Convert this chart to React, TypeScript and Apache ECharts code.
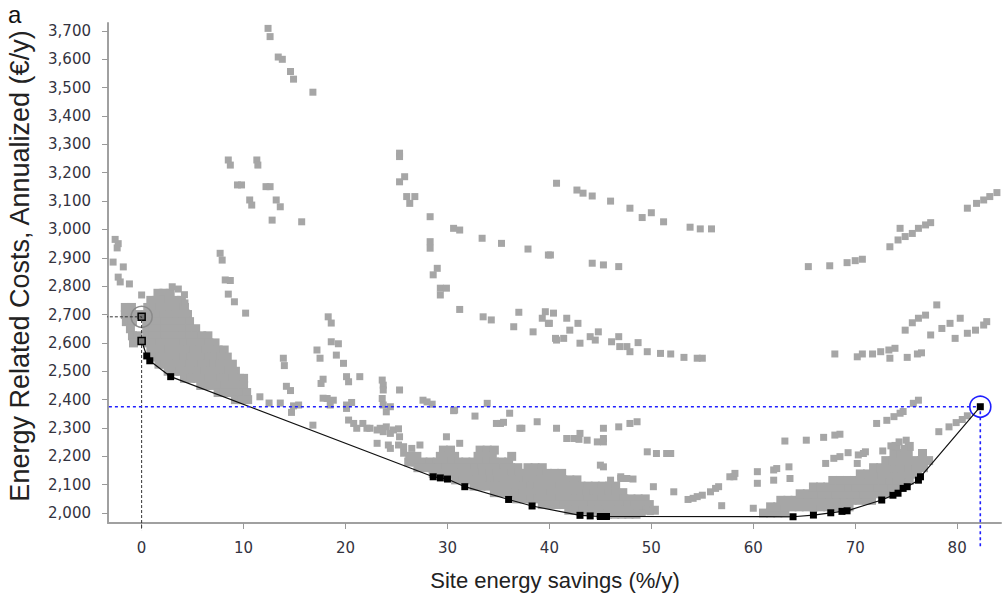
import React, { useEffect, useRef } from "react";
import * as echarts from "echarts";

// ---- tick labels ----
const xTicks = [0, 10, 20, 30, 40, 50, 60, 70, 80];
const yTicks = [2000, 2100, 2200, 2300, 2400, 2500, 2600, 2700, 2800, 2900, 3000, 3100, 3200, 3300, 3400, 3500, 3600, 3700];

// ---- sparse evaluated designs (gray) [savings %, cost €/y] ----
const sparseLeft: number[][] = [
  [-2.6, 2965], [-2.3, 2950], [-2.4, 2935], [-2.8, 2885], [-1.8, 2868], [-2.3, 2832], [-2.1, 2815], [-1.2, 2808],
  [0, 2769], [2.0, 2778], [3.0, 2798], [3.6, 2790], [4.2, 2770], [4.25, 2741], [4.4, 2705],
  [8.2, 2822], [8.7, 2820], [8.5, 2772], [9.1, 2745], [10.2, 2705], [7.7, 2916], [7.9, 2892],
];
const sparseUpperLeft: number[][] = [
  [8.5, 3245], [8.7, 3227], [11.3, 3245], [11.4, 3227], [9.4, 3157], [9.8, 3157], [12.2, 3151], [12.6, 3151],
  [10.6, 3104], [10.8, 3086], [13.2, 3104], [13.6, 3080], [12.8, 3033], [15.7, 3027],
  [12.4, 3709], [12.6, 3680], [13.4, 3608], [13.8, 3600], [14.6, 3557], [14.9, 3530], [16.8, 3484],
];
const sparseMid: number[][] = [
  [18.3, 2692], [18.6, 2670], [18.6, 2604], [19.3, 2597], [17.2, 2575], [17.5, 2546], [19.1, 2557], [19.8, 2528],
  [13.9, 2546], [14.0, 2520], [20.1, 2481], [21.4, 2481], [17.8, 2472], [17.6, 2457],
  [11.6, 2410], [12.5, 2388], [13.6, 2388], [14.2, 2447], [14.6, 2432], [14.9, 2378], [14.7, 2355], [15.4, 2381],
  [16.8, 2310], [17.8, 2405], [18.2, 2404], [18.8, 2398], [18.5, 2381], [20.1, 2381], [20.6, 2390], [20.1, 2369],
  [20.3, 2328], [20.8, 2316], [21.1, 2299], [21.7, 2316], [22.1, 2299], [22.4, 2299], [23.1, 2293], [23.4, 2299],
  [24.0, 2304], [24.7, 2293], [25.2, 2297], [25.3, 2269], [24.4, 2281], [23.7, 2287], [20.3, 2463], [23.6, 2469],
  [23.7, 2451], [23.7, 2434], [25.3, 2434], [23.6, 2404], [23.7, 2381], [24.0, 2357], [24.4, 2375], [27.6, 2398],
  [28.5, 2384], [30.6, 2361], [32.7, 2342], [33.9, 2387], [36.1, 2352], [35.2, 2316], [37.1, 2299], [38.8, 2322],
  [40.7, 2299], [42.4, 2263], [42.9, 2260], [23.1, 2246], [24.2, 2240], [24.4, 2228], [25.2, 2240], [25.7, 2234],
  [25.7, 2211], [26.5, 2228], [27.3, 2240], [29.9, 2269], [31.2, 2246], [28.0, 2392], [30.7, 2363], [34.8, 2316],
  [35.5, 2320], [37.3, 2299], [41.7, 2263], [43.0, 2281], [43.7, 2257], [44.7, 2251], [45.3, 2263], [45.3, 2299],
  [46.8, 2304], [47.9, 2316], [48.6, 2322], [45.3, 2251], [45.3, 2163], [45.0, 2169],
];
const sparseLowRight: number[][] = [
  [49.6, 2216], [50.5, 2210], [51.5, 2210], [51.9, 2210], [50.2, 2093], [52.2, 2075], [53.6, 2048], [54.1, 2052],
  [54.5, 2058], [55.0, 2063], [55.8, 2075], [56.3, 2087], [56.6, 2093], [46.0, 2116], [47.0, 2122], [47.6, 2122],
  [48.2, 2120], [47.0, 2128], [49.1, 1999], [49.9, 2005], [56.9, 2026], [57.7, 2128], [58.1, 2128], [58.2, 2140],
  [60.0, 2017], [60.4, 2146], [60.4, 2105], [62.0, 2152], [62.0, 2116], [63.5, 2163], [63.6, 2122], [62.3, 2157],
  [63.1, 2254], [65.2, 2257], [66.9, 2267], [68.0, 2275], [68.5, 2278],
  [67.1, 2175], [67.9, 2193], [68.5, 2199], [69.3, 2213], [70.3, 2205], [71.0, 2216], [70.2, 2175], [70.8, 2210],
  [72.1, 2316], [73.1, 2327], [73.8, 2340], [74.4, 2352], [74.7, 2358], [75.7, 2387], [76.2, 2398],
  [72.7, 2219], [73.5, 2237], [74.3, 2251], [75.0, 2257], [74.8, 2228],
  [78.2, 2287], [79.2, 2304], [79.9, 2319], [80.5, 2330], [81.0, 2343],
];
const sparseUpper: number[][] = [
  [25.3, 3269], [25.3, 3257], [25.8, 3186], [25.3, 3168], [26.0, 3116], [26.8, 3116], [26.3, 3092], [28.3, 3045],
  [30.6, 3004], [31.2, 2998], [33.4, 2969], [35.3, 2951], [37.9, 2931], [39.9, 2910],
  [28.3, 2957], [28.3, 2934], [29.0, 2863], [28.6, 2840], [29.3, 2793], [29.9, 2793], [29.3, 2769], [31.2, 2718],
  [33.5, 2692], [34.3, 2681], [37.0, 2708], [36.5, 2657], [38.4, 2639], [39.6, 2710], [39.3, 2687], [39.9, 2669],
  [40.6, 2616],
  [40.7, 3163], [42.7, 3139], [43.3, 3128], [44.2, 3118], [46.0, 3100], [47.9, 3075], [49.1, 3042], [50.0, 3059],
  [51.2, 3027], [53.8, 3008], [54.8, 3002], [55.9, 3002],
  [40.1, 2910], [44.2, 2881], [45.3, 2875], [46.8, 2869],
  [40.4, 2705], [40.0, 2669], [41.7, 2687], [42.8, 2669], [42.0, 2645], [40.7, 2610], [41.4, 2616], [43.0, 2599],
  [44.0, 2622], [44.8, 2639], [44.5, 2610], [46.1, 2604], [46.8, 2622], [46.9, 2587], [47.6, 2587], [47.9, 2569],
  [48.7, 2601], [49.6, 2569], [50.9, 2563], [51.9, 2561], [53.2, 2549], [54.5, 2546], [55.0, 2546],
];
const sparseRight: number[][] = [
  [81.0, 3075], [81.9, 3092], [82.6, 3104], [83.2, 3116], [83.9, 3130],
  [74.4, 3004], [73.4, 2939], [74.2, 2963], [74.9, 2975], [75.6, 2986], [76.2, 3004], [76.9, 3016], [77.4, 3024],
  [65.4, 2869], [67.5, 2872], [69.2, 2883], [70.0, 2890], [70.7, 2895],
  [68.0, 2561], [70.2, 2551], [70.7, 2561], [71.7, 2561], [72.5, 2569], [73.3, 2575], [73.9, 2581], [73.4, 2546],
  [75.1, 2549], [76.1, 2561], [76.5, 2565],
  [74.9, 2645], [75.6, 2671], [76.2, 2687], [76.9, 2698], [78.0, 2734],
  [77.4, 2628], [78.5, 2651], [79.3, 2669], [80.3, 2687],
  [79.8, 2616], [81.0, 2634], [81.8, 2645], [82.6, 2663], [82.9, 2675],
];

// ---- dense clouds: rows of [cost, savings values] ----
const cloudA: [number, number[]][] = [
  [2775, [1.6, 2.2, 2.8]],
  [2750, [0.9, 1.5, 2.1, 2.7, 3.3, 3.9]],
  [2725, [-1.6, -1.0, 0.6, 1.2, 1.8, 2.4, 3.0, 3.6, 4.2]],
  [2700, [-1.6, -1.0, -0.4, 0.4, 1.0, 1.6, 2.2, 2.8, 3.4, 4.0, 4.5]],
  [2675, [-1.5, -0.9, 0.5, 1.1, 1.7, 2.3, 2.9, 3.5, 4.1, 4.7]],
  [2650, [-1.1, 0.5, 1.1, 1.7, 2.3, 2.9, 3.5, 4.1, 4.7, 5.3]],
  [2625, [-0.9, -0.4, 0.5, 1.1, 1.7, 2.3, 2.9, 3.5, 4.1, 4.7, 5.3, 5.9, 6.5]],
  [2600, [-0.8, 0.6, 1.2, 1.8, 2.4, 3.0, 3.6, 4.2, 4.8, 5.4, 6.0, 6.6, 7.2]],
  [2575, [0.9, 1.5, 2.1, 2.7, 3.3, 3.9, 4.5, 5.1, 5.7, 6.3, 6.9, 7.5, 8.1]],
  [2550, [1.2, 1.8, 2.4, 3.0, 3.6, 4.2, 4.8, 5.4, 6.0, 6.6, 7.2, 7.8, 8.4]],
  [2525, [1.7, 2.3, 2.9, 3.5, 4.1, 4.7, 5.3, 5.9, 6.5, 7.1, 7.7, 8.3, 8.9]],
  [2500, [2.6, 3.2, 3.8, 4.4, 5.0, 5.6, 6.2, 6.8, 7.4, 8.0, 8.6, 9.2]],
  [2475, [4.2, 4.8, 5.4, 6.0, 6.6, 7.2, 7.8, 8.4, 9.0, 9.6, 10.0]],
  [2450, [5.8, 6.4, 7.0, 7.6, 8.2, 8.8, 9.4, 10.0]],
  [2425, [7.5, 8.1, 8.7, 9.3, 9.9, 10.3]],
  [2400, [9.2, 9.8, 10.4]],
];
const cloudB: [number, number[]][] = [
  [2222, [29.6, 30.3, 33.2, 33.9, 34.6]],
  [2200, [26.3, 27.0, 29.3, 30.0, 30.7, 33.0, 33.7, 34.4, 36.3]],
  [2180, [26.2, 26.9, 27.6, 28.3, 29.0, 29.7, 30.4, 31.1, 31.8, 32.5, 33.2, 33.9, 34.6, 35.3, 36.0]],
  [2160, [27.1, 27.8, 28.5, 29.2, 29.9, 30.6, 31.3, 32.0, 32.7, 33.4, 34.1, 34.8, 35.5, 36.2, 36.9, 37.9, 38.6, 39.3]],
  [2140, [28.6, 29.3, 30.0, 30.7, 31.4, 32.1, 32.8, 33.5, 34.2, 34.9, 35.6, 36.3, 37.0, 37.7, 38.4, 39.1, 39.8, 40.5, 41.2]],
  [2117, [30.8, 31.5, 32.2, 32.9, 33.6, 34.3, 35.0, 35.7, 36.4, 37.1, 37.8, 38.5, 39.2, 39.9, 40.6, 41.3, 42.0, 42.7]],
  [2095, [32.6, 33.3, 34.0, 34.7, 35.4, 36.1, 36.8, 37.5, 38.2, 38.9, 39.6, 40.3, 41.0, 41.7, 42.4, 43.1, 43.8, 44.5, 45.2, 45.9, 46.5]],
  [2072, [34.6, 35.3, 36.0, 36.7, 37.4, 38.1, 38.8, 39.5, 40.2, 40.9, 41.6, 42.3, 43.0, 43.7, 44.4, 45.1, 45.8, 46.5, 47.2]],
  [2050, [36.8, 37.5, 38.2, 38.9, 39.6, 40.3, 41.0, 41.7, 42.4, 43.1, 43.8, 44.5, 45.2, 45.9, 46.6, 47.3, 48.0, 48.7, 49.4]],
  [2030, [39.3, 40.0, 40.7, 41.4, 42.1, 42.8, 43.5, 44.2, 44.9, 45.6, 46.3, 47.0, 47.7, 48.4, 49.1, 49.8]],
  [2010, [41.9, 42.6, 43.3, 44.0, 44.7, 45.4, 46.1, 46.8, 47.5, 48.2, 48.9, 49.6, 50.3]],
  [1996, [45.0, 45.7, 46.4, 47.1, 47.8, 48.5]],
];
const cloudC: [number, number[]][] = [
  [2000, [61.0, 61.7, 62.4, 63.1]],
  [2022, [61.7, 62.4, 63.1, 63.8, 64.5, 65.2, 65.9, 66.6, 67.3, 68.0, 68.7, 69.4]],
  [2045, [62.7, 63.4, 64.1, 64.8, 65.5, 66.2, 66.9, 67.6, 68.3, 69.0, 69.7, 70.4, 71.1, 71.6]],
  [2068, [64.6, 65.3, 66.0, 66.7, 67.4, 68.1, 68.8, 69.5, 70.2, 70.9, 71.6, 72.3, 73.0]],
  [2092, [65.9, 66.6, 67.3, 68.0, 68.7, 69.4, 70.1, 70.8, 71.5, 72.2, 72.9, 73.6, 74.2]],
  [2115, [67.8, 68.5, 69.2, 69.9, 70.6, 71.3, 72.0, 72.7, 73.4, 74.1, 74.8, 75.3]],
  [2138, [70.5, 71.2, 71.9, 72.6, 73.3, 74.0, 74.7, 75.4, 76.1]],
  [2160, [71.8, 72.5, 73.2, 73.9, 74.6, 75.3, 76.0, 76.7]],
  [2185, [73.0, 73.7, 74.4, 75.1, 75.8, 76.5, 77.2]],
  [2210, [73.8, 74.5, 75.2, 76.6]],
  [2235, [74.0, 75.3]],
];

// ---- Pareto front (black) ----
const pareto: number[][] = [
  [0, 2607], [0.5, 2554], [0.8, 2537], [2.85, 2481], [28.6, 2128], [29.3, 2124], [30.0, 2120], [31.7, 2093],
  [36.0, 2048], [38.3, 2025], [43.0, 1992], [44.0, 1990], [45.0, 1988], [45.6, 1988], [63.9, 1987], [65.9, 1993],
  [67.6, 2001], [68.7, 2006], [69.2, 2008], [72.6, 2046], [73.7, 2063], [74.2, 2070], [74.7, 2087], [75.1, 2093],
  [76.2, 2116], [76.4, 2128], [82.27, 2375],
];
const baseline: number[] = [0, 2692];
const selected: number[] = [82.27, 2375];
const refLeftX = -4.1;
const baseDropY = 1940;
const selDropY = 1877;

const rowsToPoints = (rows: [number, number[]][]) => rows.flatMap(([y, xs]) => xs.map((x) => [x, y]));

export default function App() {
  const ref = useRef<HTMLDivElement>(null);
  useEffect(() => {
    if (!ref.current) return;
    const chart = echarts.init(ref.current, null, { renderer: "svg" });
    const gray = "#a6a6a6";
    const sparse = [...sparseLeft, ...sparseUpperLeft, ...sparseMid, ...sparseLowRight, ...sparseUpper, ...sparseRight];
    const dense = [...rowsToPoints(cloudA), ...rowsToPoints(cloudB), ...rowsToPoints(cloudC)];
    const labelFont = { fontFamily: "DejaVu Sans", fontSize: 15, color: "#333340" };
    chart.setOption({
      animation: false,
      backgroundColor: "#ffffff",
      grid: { left: 108, right: 4, top: 23, bottom: 75, containLabel: false },
      xAxis: {
        type: "value",
        min: -3.3,
        max: 84.3,
        axisLine: { show: true, onZero: false, lineStyle: { color: "#a0a0a0", width: 2 } },
        axisTick: { show: true, length: 6, customValues: xTicks, lineStyle: { color: "#999" } },
        axisLabel: { ...labelFont, margin: 17, customValues: xTicks, formatter: (v: number) => String(v) },
        splitLine: { show: false },
      },
      yAxis: {
        type: "value",
        min: 1965,
        max: 3728,
        axisLine: { show: true, onZero: false, lineStyle: { color: "#a0a0a0", width: 2 } },
        axisTick: { show: true, length: 6, customValues: yTicks, lineStyle: { color: "#999" } },
        axisLabel: { ...labelFont, margin: 17, customValues: yTicks, formatter: (v: number) => v.toLocaleString("en-US") },
        splitLine: { show: false },
      },
      series: [
        { type: "scatter", data: dense, symbol: "rect", symbolSize: 9, itemStyle: { color: gray, opacity: 1 }, silent: true },
        { type: "scatter", data: sparse, symbol: "rect", symbolSize: 7, itemStyle: { color: gray, opacity: 1 }, silent: true },
        {
          type: "line",
          data: [[refLeftX, baseline[1]], baseline, [baseline[0], baseDropY]],
          clip: false,
          symbol: "none",
          lineStyle: { color: "#333", width: 1, type: [3, 2] },
          silent: true,
        },
        {
          type: "line",
          data: pareto,
          symbol: "rect",
          symbolSize: 7,
          itemStyle: { color: "#000", opacity: 1 },
          lineStyle: { color: "#111", width: 1.2 },
          silent: true,
        },
        {
          type: "line",
          data: [[-3.8, selected[1]], selected, [selected[0], selDropY]],
          clip: false,
          symbol: "none",
          lineStyle: { color: "#1f1fff", width: 1.6, type: [3, 3] },
          silent: true,
        },
        {
          type: "scatter",
          data: [baseline],
          symbol: "rect",
          symbolSize: 7,
          itemStyle: { color: "#777", borderColor: "#000", borderWidth: 1.5, opacity: 1 },
          silent: true,
        },
        {
          type: "scatter",
          data: [pareto[0]],
          symbol: "rect",
          symbolSize: 7,
          itemStyle: { color: "#777", borderColor: "#000", borderWidth: 1.5, opacity: 1 },
          silent: true,
          z: 3,
        },
        {
          type: "scatter",
          data: [baseline],
          symbol: "circle",
          symbolSize: 21,
          itemStyle: { color: "rgba(0,0,0,0)", borderColor: "#8a8a8a", borderWidth: 1.5, opacity: 1 },
          silent: true,
        },
        {
          type: "scatter",
          data: [selected],
          symbol: "circle",
          symbolSize: 21,
          itemStyle: { color: "rgba(0,0,0,0)", borderColor: "#1f1fff", borderWidth: 1.6, opacity: 1 },
          silent: true,
        },
      ],
      graphic: [
        {
          type: "text",
          left: 8,
          top: 2,
          style: { text: "a", font: '24px "Liberation Sans", Arial, sans-serif', fill: "#111" },
        },
        {
          type: "text",
          x: 20,
          y: 266,
          rotation: Math.PI / 2,
          style: {
            text: "Energy Related Costs, Annualized (€/y)",
            font: '27px "Liberation Sans", Arial, sans-serif',
            fill: "#222",
            align: "center",
            verticalAlign: "middle",
            textAlign: "center",
            textVerticalAlign: "middle",
          },
        },
        {
          type: "text",
          x: 555,
          y: 580,
          style: {
            text: "Site energy savings (%/y)",
            font: '22px "Liberation Sans", Arial, sans-serif',
            fill: "#222",
            align: "center",
            verticalAlign: "middle",
            textAlign: "center",
            textVerticalAlign: "middle",
          },
        },
      ],
    });
    return () => chart.dispose();
  }, []);
  return <div ref={ref} style={{ width: 1005, height: 598, position: "absolute", left: 0, top: 0 }} />;
}
